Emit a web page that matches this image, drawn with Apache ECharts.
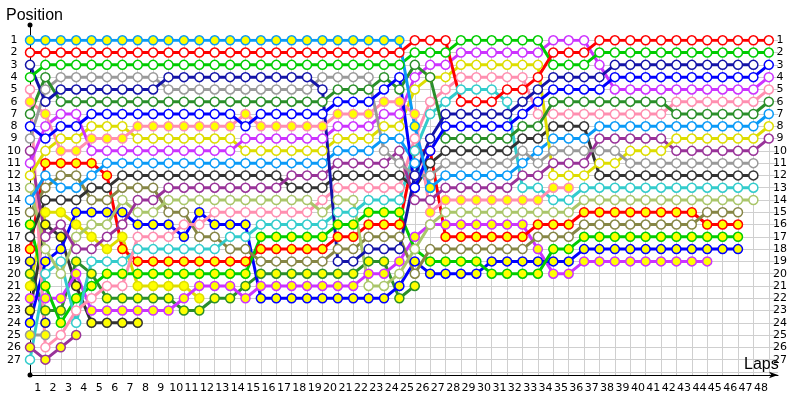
<!DOCTYPE html>
<html><head><meta charset="utf-8">
<script src="https://cdn.jsdelivr.net/npm/echarts@6/dist/echarts.min.js"></script>
<style>html,body{margin:0;padding:0;background:#fff}#c{width:800px;height:400px}</style>
</head><body><div id="c"></div>
<script>
const N = null;
const lapLabels = Array.from({length:48},(_,i)=>String(i+1));
// positions per lap (index = lap 0..48)
const sbY    = [1,1,1,1,1,1,1,1,1,1,1,1,1,1,1,1,1,1,1,1,1,1,1,1,1,8,13,N,N,N,N,N,N,N,N,N,N,N,N,N,N,N,N,N,N,N,N,N,N];
const redW   = [2,2,2,2,2,2,2,2,2,2,2,2,2,2,2,2,2,2,2,2,2,2,2,2,2,1,1,1,6,6,6,5,5,4,2,2,2,1,1,1,1,1,1,1,1,1,1,1,1];
const greenW = [4,3,3,3,3,3,3,3,3,3,3,3,3,3,3,3,3,3,3,3,3,3,3,3,3,2,2,2,1,1,1,1,1,1,3,3,3,2,2,2,2,2,2,2,2,2,2,2,2];
const navyW  = [3,6,5,5,5,5,5,5,5,4,4,4,4,4,4,4,4,4,4,5,19,19,18,18,18,12,9,7,7,7,7,7,6,5,4,4,4,4,3,3,3,3,3,3,3,3,3,3,N];
const blueW  = [8,9,8,8,7,7,7,7,7,7,7,7,7,7,8,7,7,7,7,7,6,6,6,5,4,13,10,8,8,8,8,8,7,6,5,5,5,5,4,4,4,4,4,4,4,4,4,4,3];
const dkgW   = [7,4,6,6,6,6,6,6,6,6,6,6,6,6,6,6,6,6,6,6,5,5,5,4,5,3,4,9,9,9,9,9,8,8,6,6,6,6,6,6,6,6,7,7,7,7,7,7,6];
const greyW  = [9,5,4,4,4,4,4,4,4,5,5,5,5,5,5,5,5,5,5,4,4,4,4,10,11,12,12,11,11,11,11,11,10,11,10,10,10,10,10,11,11,11,11,11,11,11,11,11,N];
const pinkY  = [6,7,10,10,9,9,9,8,8,8,8,8,8,8,7,8,8,8,8,8,7,7,7,6,6,7,15,14,14,14,14,14,14,14,13,13,N,N,N,N,N,N,N,N,N,N,N,N,N];
const magW   = [11,8,7,7,10,10,10,10,10,10,10,10,10,10,9,9,9,9,9,9,8,8,8,7,7,4,3,3,2,2,2,2,2,2,1,1,1,3,5,5,5,5,5,5,5,5,5,5,4];
const yellowW= [12,10,9,9,8,8,8,9,9,9,9,9,9,9,10,10,10,10,10,10,9,9,9,8,8,5,4,4,3,3,3,3,3,3,12,12,12,11,11,10,10,10,9,9,9,9,9,9,8];
const sbW    = [14,12,13,13,12,11,11,11,11,11,11,11,11,11,11,11,11,11,11,11,10,10,10,9,9,11,13,12,12,12,12,12,11,10,9,9,9,8,8,8,8,8,8,8,8,8,8,8,7];
const purpleW= [10,17,16,18,18,17,16,14,14,13,13,13,13,13,13,13,13,12,12,12,11,11,11,11,10,14,14,13,13,13,13,13,12,12,11,11,11,9,9,9,9,9,10,10,10,10,10,10,9];
const blackW = [17,14,14,14,13,13,12,12,12,12,12,12,12,12,12,12,12,13,13,13,12,12,12,12,12,13,11,10,10,10,10,10,9,9,8,8,8,12,12,12,12,12,12,12,12,12,12,12,N];
const ltW    = [13,18,20,17,16,16,14,15,15,14,14,14,14,14,14,14,14,14,14,15,14,14,21,21,20,18,16,15,15,15,15,15,15,15,15,15,14,14,14,14,14,14,14,14,14,14,14,14,N];
const pinkW  = [5,26,25,23,22,21,21,17,17,17,16,16,15,15,15,15,15,15,15,14,13,13,13,13,13,9,6,5,4,4,4,4,4,7,7,7,7,7,7,7,7,7,6,6,6,6,6,6,5];
const cyanW  = [27,20,19,24,19,19,19,18,18,18,18,18,18,17,17,16,16,16,16,16,15,15,14,14,14,10,7,6,5,5,5,6,13,13,14,14,13,13,13,13,13,13,13,13,13,13,13,13,N];
const oliveW = [15,13,12,12,14,14,13,13,13,15,15,17,17,18,18,19,19,19,19,19,18,18,17,17,17,20,18,18,18,18,18,18,18,17,17,17,16,16,16,16,16,16,16,16,15,15,15,N,N];
const greenY = [16,21,24,22,21,20,20,20,20,20,20,20,20,20,20,17,17,17,17,17,16,16,15,15,15,18,19,19,19,19,20,20,20,20,18,18,17,17,17,17,17,17,17,17,17,17,17,N,N];
const redY   = [18,11,11,11,11,12,18,19,19,19,19,19,19,19,19,18,18,18,18,18,17,17,16,16,16,10,10,17,17,17,17,17,17,16,16,16,15,15,15,15,15,15,15,15,16,16,16,N,N];
const blueY  = [24,19,18,15,15,15,15,16,16,16,17,15,16,16,16,22,22,22,22,22,22,22,22,22,21,19,20,20,20,20,19,19,19,19,19,19,18,18,18,18,18,18,18,18,18,18,18,N,N];
const magY   = [22,22,22,20,23,23,23,23,23,23,22,21,21,21,22,21,21,21,21,21,21,21,20,20,19,17,16,16,16,16,16,16,16,18,20,20,19,19,19,19,19,19,19,19,19,N,N,N,N];
const dkgY   = [20,23,23,19,20,22,22,22,22,22,23,23,22,22,21,20,20,20,20,20,20,20,19,19,22,21,N,N,N,N,N,N,N,N,N,N,N,N,N,N,N,N,N,N,N,N,N,N,N];
const yellowY= [21,15,15,16,17,18,17,21,21,21,21,22,N,N,N,N,N,N,N,N,N,N,N,N,N,N,N,N,N,N,N,N,N,N,N,N,N,N,N,N,N,N,N,N,N,N,N,N,N];
const blackY = [23,16,17,21,24,24,24,24,N,N,N,N,N,N,N,N,N,N,N,N,N,N,N,N,N,N,N,N,N,N,N,N,N,N,N,N,N,N,N,N,N,N,N,N,N,N,N,N,N];
const greyY  = [25,25,N,N,N,N,N,N,N,N,N,N,N,N,N,N,N,N,N,N,N,N,N,N,N,N,N,N,N,N,N,N,N,N,N,N,N,N,N,N,N,N,N,N,N,N,N,N,N];
const purpleY= [26,27,26,25,N,N,N,N,N,N,N,N,N,N,N,N,N,N,N,N,N,N,N,N,N,N,N,N,N,N,N,N,N,N,N,N,N,N,N,N,N,N,N,N,N,N,N,N,N];
const navyY  = [19,24,N,N,N,N,N,N,N,N,N,N,N,N,N,N,N,N,N,N,N,N,N,N,N,N,N,N,N,N,N,N,N,N,N,N,N,N,N,N,N,N,N,N,N,N,N,N,N];

const C = {sb:'#0a9af7',red:'#ff0000',green:'#00cc00',navy:'#1414a8',blue:'#0000ff',dkg:'#2a8f2a',grey:'#9a9a9a',
  pink:'#ff8fb0',mag:'#cc33ff',yellow:'#dddd00',purple:'#993399',black:'#333333',lt:'#aac66a',cyan:'#33cccc',olive:'#868646'};
const W='#ffffff', Y='#ffff00';
const defs = [
  [greyY,C.grey,Y],[purpleY,C.purple,Y],[navyY,C.navy,Y],[blackY,C.black,Y],[yellowY,C.yellow,Y],[dkgY,C.dkg,Y],
  [magY,C.mag,Y],[blueY,C.blue,Y],[redY,C.red,Y],[greenY,C.green,Y],[oliveW,C.olive,W],[cyanW,C.cyan,W],[pinkW,C.pink,W],
  [ltW,C.lt,W],[blackW,C.black,W],[purpleW,C.purple,W],[sbW,C.sb,W],[yellowW,C.yellow,W],[magW,C.mag,W],[pinkY,C.pink,Y],
  [greyW,C.grey,W],[dkgW,C.dkg,W],[blueW,C.blue,W],[navyW,C.navy,W],[greenW,C.green,W],[redW,C.red,W],[sbY,C.sb,Y]
];
const series = defs.map(([arr,col,fill])=>({
  type:'line', xAxisIndex:0, yAxisIndex:0, symbol:'circle', symbolSize:9, showSymbol:true,
  data: arr.map((v,i)=> v==null?null:[i,v]).filter(d=>d),
  lineStyle:{color:col,width:3}, itemStyle:{color:fill,borderColor:col,borderWidth:1.5},
  emphasis:{disabled:true}, animation:false
}));
const lblFmt = v=>(v>=1&&v<=27)?String(v):'';
const chart = echarts.init(document.getElementById('c'),null,{renderer:'canvas'});
chart.setOption({
  animation:false,
  title:[{text:'Position',left:1,top:3,textStyle:{fontFamily:'Liberation Sans',fontSize:16,fontWeight:'normal',color:'#000'}},
         {text:'Laps',left:739,top:352,textStyle:{fontFamily:'Liberation Sans',fontSize:16,fontWeight:'normal',color:'#000'}}],
  grid:[{left:30,right:22,top:40.3,bottom:25},{left:30,width:738.7,top:40.3,bottom:25},{left:30,width:10,top:25,bottom:25}],
  xAxis:[
    {type:'value',gridIndex:0,min:0,max:48.6,interval:1,
     axisLine:{show:true,lineStyle:{color:'#000',width:1},symbol:['none','arrow'],symbolSize:[5,9]},
     axisTick:{show:false},axisLabel:{show:false},
     splitLine:{show:true,showMinLine:false,showMaxLine:false,lineStyle:{color:'#cfcfcf',width:1}}},
    {type:'category',gridIndex:1,data:lapLabels,boundaryGap:true,
     axisLine:{show:false},axisTick:{show:false},splitLine:{show:false},
     axisLabel:{interval:0,margin:8,fontSize:11,color:'#000',fontFamily:'DejaVu Sans'}},
    {type:'value',gridIndex:2,show:false}
  ],
  yAxis:[
    {type:'value',gridIndex:0,inverse:true,min:1,max:28.25,interval:1,
     axisLine:{show:false},
     axisTick:{show:false},
     axisLabel:{margin:16,align:'center',fontSize:11,color:'#000',fontFamily:'DejaVu Sans',formatter:lblFmt},
     splitLine:{show:true,showMinLine:true,showMaxLine:false,lineStyle:{color:'#cfcfcf',width:1}}},
    {type:'value',gridIndex:0,inverse:true,min:1,max:28.25,interval:1,position:'right',
     axisLine:{show:false},axisTick:{show:false},splitLine:{show:false},
     axisLabel:{margin:2,align:'center',fontSize:11,color:'#000',fontFamily:'DejaVu Sans',formatter:lblFmt}},
    {type:'value',gridIndex:1,show:false},
    {type:'value',gridIndex:2,position:'left',min:0,max:1,
     axisLine:{show:true,lineStyle:{color:'#000',width:1},symbol:['circle','circle'],symbolSize:[5,5]},
     axisTick:{show:false},axisLabel:{show:false},splitLine:{show:false}}
  ],
  series: series
});
</script></body></html>
